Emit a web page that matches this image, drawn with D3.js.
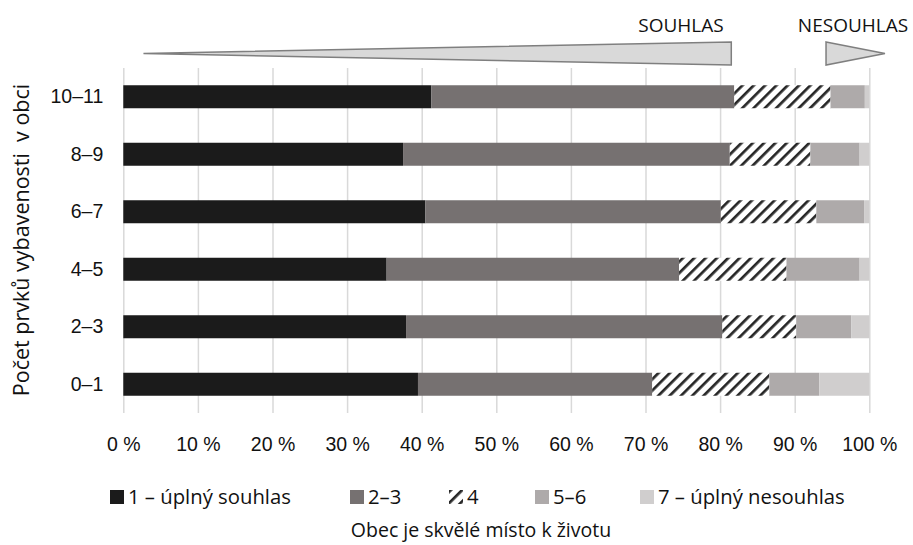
<!DOCTYPE html>
<html>
<head>
<meta charset="utf-8">
<script src="https://cdn.jsdelivr.net/npm/d3@7"></script>
<style>
  html, body { margin: 0; padding: 0; background: #fff; }
  svg { display: block; font-family: "Open Sans", "Noto Sans", sans-serif; }
  text { fill: #111; }
</style>
</head>
<body>
<svg id="chart" width="913" height="545"></svg>
<script>
// ---- data ----
const categories = ["10–11", "8–9", "6–7", "4–5", "2–3", "0–1"];
const seriesNames = ["1 – úplný souhlas", "2–3", "4", "5–6", "7 – úplný nesouhlas"];
const s1 = [41.3, 37.5, 40.5, 35.3, 37.9, 39.5];
const s2 = [40.6, 43.8, 39.6, 39.2, 42.4, 31.4];
const s3 = [12.9, 10.8, 12.8, 14.4, 9.9, 15.7];
const s4 = [4.6, 6.6, 6.4, 9.8, 7.4, 6.7];
const s5 = [0.6, 1.3, 0.7, 1.3, 2.4, 6.7];
const xTicks = [0, 10, 20, 30, 40, 50, 60, 70, 80, 90, 100];
const xTitle = "Obec je skvělé místo k životu";
const yTitle = "Počet prvků vybavenosti  v obci";
const topLabels = ["SOUHLAS", "NESOUHLAS"];
// annotation wedges in percent units: [start, end]
const wedgeSouhlas = [2.7, 81.5];
const wedgeNesouhlas = [94.2, 102.1];

// ---- styles / layout ----
const colors = ["#1b1b1b", "#767171", "url(#hatch)", "#aeaaaa", "#d0cece"];
const svg = d3.select("#chart");
const M = { left: 123.3, right: 869.3, top: 68, bottom: 413 };

const defs = svg.append("defs");
const pat = defs.append("pattern")
  .attr("id", "hatch").attr("patternUnits", "userSpaceOnUse")
  .attr("width", 8).attr("height", 8)
  .attr("patternTransform", "rotate(45)");
pat.append("rect").attr("width", 8).attr("height", 8).attr("fill", "#fff");
pat.append("rect").attr("x", 0).attr("y", 0).attr("width", 2.7).attr("height", 8).attr("fill", "#262626");

const x = d3.scaleLinear().domain([0, 100]).range([M.left, M.right]);
const y = d3.scaleBand().domain(categories).range([M.top, M.bottom])
  .paddingInner(0.6).paddingOuter(0.3);

// gridlines
const grid = svg.append("g").attr("transform", `translate(0,${M.top})`)
  .call(d3.axisBottom(x).tickValues(xTicks).tickSize(M.bottom - M.top).tickFormat(""));
grid.select(".domain").remove();
grid.selectAll("line").attr("stroke", "#d9d9d9").attr("stroke-width", 1.5);

// stacked bars
const rows = categories.map((c, i) => ({ cat: c, v: [s1[i], s2[i], s3[i], s4[i], s5[i]] }));
const keys = d3.range(seriesNames.length);
const stackData = rows.map(r => { const o = { cat: r.cat }; keys.forEach(k => o[k] = r.v[k]); return o; });
const stacked = d3.stack().keys(keys)(stackData);

svg.append("g").selectAll("g").data(stacked).join("g")
  .attr("fill", (d, i) => colors[i])
  .selectAll("rect").data(d => d).join("rect")
  .attr("x", d => x(d[0]))
  .attr("width", d => x(d[1]) - x(d[0]))
  .attr("y", d => y(d.data.cat))
  .attr("height", y.bandwidth());

// x tick labels
const xa = svg.append("g").attr("transform", `translate(0,${M.bottom})`)
  .call(d3.axisBottom(x).tickValues(xTicks).tickSize(0).tickPadding(24).tickFormat(d => d + " %"));
xa.select(".domain").remove();
xa.selectAll("text").attr("font-size", 19.5).attr("font-family", null).attr("fill", "#111");

// y tick labels
const ya = svg.append("g").attr("transform", `translate(${M.left},0)`)
  .call(d3.axisLeft(y).tickSize(0).tickPadding(20));
ya.select(".domain").remove();
ya.selectAll("text").attr("font-size", 19.5).attr("font-family", null).attr("fill", "#111");

// axis titles
svg.append("text").attr("x", 481).attr("y", 537).attr("text-anchor", "middle")
  .attr("font-size", 19.5).text(xTitle);
svg.append("text").attr("transform", "translate(29,240) rotate(-90)")
  .attr("text-anchor", "middle").attr("font-size", 21.5)
  .style("white-space", "pre").text(yTitle);

// wedges
const wy = 53.5, wh = 11.5;
svg.append("path")
  .attr("d", `M${x(wedgeSouhlas[0])},${wy} L${x(wedgeSouhlas[1])},${wy - wh} L${x(wedgeSouhlas[1])},${wy + wh} Z`)
  .attr("fill", "#d9d9d9").attr("stroke", "#7f7f7f").attr("stroke-width", 1.5).attr("stroke-linejoin", "miter");
svg.append("path")
  .attr("d", `M${x(wedgeNesouhlas[0])},${wy - wh} L${x(wedgeNesouhlas[1])},${wy} L${x(wedgeNesouhlas[0])},${wy + wh} Z`)
  .attr("fill", "#d9d9d9").attr("stroke", "#7f7f7f").attr("stroke-width", 1.5);
svg.append("text").attr("x", 681).attr("y", 32).attr("text-anchor", "middle")
  .attr("font-size", 19).text(topLabels[0]);
svg.append("text").attr("x", 853).attr("y", 32).attr("text-anchor", "middle")
  .attr("font-size", 19).text(topLabels[1]);

// legend
const legendX = [110, 350, 449, 535, 640];
const lg = svg.append("g").selectAll("g").data(seriesNames).join("g")
  .attr("transform", (d, i) => `translate(${legendX[i]},490)`);
lg.append("rect").attr("width", 14).attr("height", 14).attr("fill", (d, i) => colors[i]);
lg.append("text").attr("x", 18).attr("y", 14).attr("font-size", 20.3).text(d => d);
</script>
</body>
</html>
